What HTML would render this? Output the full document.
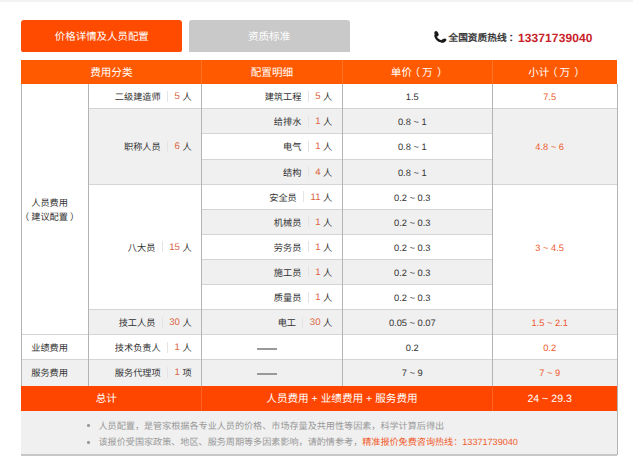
<!DOCTYPE html>
<html lang="zh-CN"><head><meta charset="utf-8"><title>价格详情</title>
<style>
html,body{margin:0;padding:0;}
body{width:633px;height:466px;position:relative;overflow:hidden;background:#fff;font-family:"Liberation Sans",sans-serif;text-rendering:geometricPrecision;text-spacing-trim:space-all;}
.t{position:absolute;display:flex;align-items:center;white-space:nowrap;box-sizing:border-box;}
.sep{display:inline-block;width:1px;height:11px;background:#e4e4e4;margin:0 6.5px 0 6.3px;}
em{font-style:normal;color:#dc6440;font-size:9.6px;font-weight:normal;position:relative;top:0.5px;}
.dot{position:absolute;width:2.5px;height:2.5px;border-radius:50%;background:#999;}
</style></head><body>
<div style="position:absolute;left:0px;top:0px;width:633px;height:1.5px;background:#f3f3f3;"></div>
<div style="position:absolute;left:21.2px;top:20.3px;width:161.3px;height:31.9px;background:#ff4b00;border-radius:3px 3px 2px 2px;"></div>
<div class="t" style="left:21.2px;top:20.3px;width:161.3px;height:31.9px;padding-right:0px;justify-content:center;color:#fff;font-size:10.45px;font-weight:500;">价格详情及人员配置</div>
<div style="position:absolute;left:188.5px;top:20.3px;width:161.2px;height:31.9px;background:#c9c9c9;border-radius:3px 3px 0 0;"></div>
<div class="t" style="left:188.5px;top:20.3px;width:161.2px;height:31.9px;padding-right:0px;justify-content:center;color:#fff;font-size:10.6px;font-weight:500;">资质标准</div>
<svg style="position:absolute;left:430px;top:28px" width="20" height="18" viewBox="0 0 20 18"><g fill="#1a1a1a"><ellipse cx="6.5" cy="5.8" rx="1.9" ry="2.8" transform="rotate(-25 6.5 5.8)"/><ellipse cx="13.7" cy="12.6" rx="2.9" ry="1.8" transform="rotate(-25 13.7 12.6)"/></g><path d="M5.4 7.5 C5.8 10.2 8.2 12.6 11.5 13.5" fill="none" stroke="#1a1a1a" stroke-width="2.3" stroke-linecap="round"/></svg>
<div class="t" style="left:448.5px;top:28px;height:17px;font-size:9.7px;font-weight:bold;color:#3a3a3a;">全国资质热线<span style="margin-left:2px">：</span></div>
<div class="t" style="left:518px;top:29px;height:17px;font-size:12px;letter-spacing:0.1px;font-weight:bold;color:#c91f2c;">13371739040</div>
<div style="position:absolute;left:21.2px;top:59.5px;width:595.8px;height:24.5px;background:#ff5a00;"></div>
<div style="position:absolute;left:201.1px;top:59.5px;width:1.0px;height:24.5px;background:rgba(255,255,255,0.16);"></div>
<div style="position:absolute;left:341.8px;top:59.5px;width:1.0px;height:24.5px;background:rgba(255,255,255,0.16);"></div>
<div style="position:absolute;left:491.8px;top:59.5px;width:1.0px;height:24.5px;background:rgba(255,255,255,0.16);"></div>
<div class="t" style="left:21.2px;top:60.5px;width:180.4px;height:24.5px;padding-right:0px;justify-content:center;color:#fff;font-size:10.6px;font-weight:500;">费用分类</div>
<div class="t" style="left:201.6px;top:60.5px;width:140.7px;height:24.5px;padding-right:0px;justify-content:center;color:#fff;font-size:10.6px;font-weight:500;">配置明细</div>
<div class="t" style="left:342.3px;top:60.5px;width:150.0px;height:24.5px;padding-right:0px;justify-content:center;color:#fff;font-size:10.6px;font-weight:500;">单价<span style="position:relative;left:-2.4px">（</span><span style="position:relative;left:-0.5px">万</span><span style="position:relative;left:3.8px">）</span></div>
<div class="t" style="left:492.3px;top:60.5px;width:124.7px;height:24.5px;padding-right:0px;justify-content:center;color:#fff;font-size:10.6px;font-weight:500;">小计<span style="position:relative;left:-2.4px">（</span><span style="position:relative;left:-0.5px">万</span><span style="position:relative;left:3.8px">）</span></div>
<div style="position:absolute;left:21.2px;top:84.0px;width:595.8px;height:302.0px;background:#fff;"></div>
<div style="position:absolute;left:201.6px;top:109px;width:415.4px;height:25px;background:#f0f0f0;"></div>
<div style="position:absolute;left:201.6px;top:160px;width:415.4px;height:25px;background:#f0f0f0;"></div>
<div style="position:absolute;left:201.6px;top:210px;width:415.4px;height:25px;background:#f0f0f0;"></div>
<div style="position:absolute;left:201.6px;top:260px;width:415.4px;height:25px;background:#f0f0f0;"></div>
<div style="position:absolute;left:201.6px;top:310px;width:415.4px;height:25px;background:#f0f0f0;"></div>
<div style="position:absolute;left:201.6px;top:360px;width:415.4px;height:26px;background:#f0f0f0;"></div>
<div style="position:absolute;left:88px;top:109px;width:113.6px;height:76px;background:#f0f0f0;"></div>
<div style="position:absolute;left:492.3px;top:109px;width:124.7px;height:76px;background:#f0f0f0;"></div>
<div style="position:absolute;left:492.3px;top:185px;width:124.7px;height:125px;background:#fff;"></div>
<div style="position:absolute;left:88px;top:310px;width:113.6px;height:25px;background:#f0f0f0;"></div>
<div style="position:absolute;left:21.2px;top:360px;width:180.4px;height:26px;background:#f0f0f0;"></div>
<div style="position:absolute;left:201.6px;top:108px;width:290.7px;height:1px;background:#d4d4d4;"></div>
<div style="position:absolute;left:201.6px;top:133px;width:290.7px;height:1px;background:#d4d4d4;"></div>
<div style="position:absolute;left:201.6px;top:159px;width:290.7px;height:1px;background:#d4d4d4;"></div>
<div style="position:absolute;left:201.6px;top:184px;width:290.7px;height:1px;background:#d4d4d4;"></div>
<div style="position:absolute;left:201.6px;top:209px;width:290.7px;height:1px;background:#d4d4d4;"></div>
<div style="position:absolute;left:201.6px;top:234px;width:290.7px;height:1px;background:#d4d4d4;"></div>
<div style="position:absolute;left:201.6px;top:259px;width:290.7px;height:1px;background:#d4d4d4;"></div>
<div style="position:absolute;left:201.6px;top:284px;width:290.7px;height:1px;background:#d4d4d4;"></div>
<div style="position:absolute;left:201.6px;top:309px;width:290.7px;height:1px;background:#d4d4d4;"></div>
<div style="position:absolute;left:201.6px;top:334px;width:290.7px;height:1px;background:#d4d4d4;"></div>
<div style="position:absolute;left:201.6px;top:359px;width:290.7px;height:1px;background:#d4d4d4;"></div>
<div style="position:absolute;left:88px;top:108px;width:113.6px;height:1px;background:#d4d4d4;"></div>
<div style="position:absolute;left:492.3px;top:108px;width:124.7px;height:1px;background:#d4d4d4;"></div>
<div style="position:absolute;left:88px;top:184px;width:113.6px;height:1px;background:#d4d4d4;"></div>
<div style="position:absolute;left:492.3px;top:184px;width:124.7px;height:1px;background:#d4d4d4;"></div>
<div style="position:absolute;left:88px;top:309px;width:113.6px;height:1px;background:#d4d4d4;"></div>
<div style="position:absolute;left:492.3px;top:309px;width:124.7px;height:1px;background:#d4d4d4;"></div>
<div style="position:absolute;left:88px;top:334px;width:113.6px;height:1px;background:#d4d4d4;"></div>
<div style="position:absolute;left:492.3px;top:334px;width:124.7px;height:1px;background:#d4d4d4;"></div>
<div style="position:absolute;left:88px;top:359px;width:113.6px;height:1px;background:#d4d4d4;"></div>
<div style="position:absolute;left:492.3px;top:359px;width:124.7px;height:1px;background:#d4d4d4;"></div>
<div style="position:absolute;left:21.2px;top:334px;width:66.8px;height:1px;background:#d4d4d4;"></div>
<div style="position:absolute;left:21.2px;top:359px;width:66.8px;height:1px;background:#d4d4d4;"></div>
<div style="position:absolute;left:87.5px;top:84.0px;width:1.0px;height:302.0px;background:#b4b4b4;"></div>
<div style="position:absolute;left:201.1px;top:84.0px;width:1.0px;height:302.0px;background:#b4b4b4;"></div>
<div style="position:absolute;left:341.8px;top:84.0px;width:1.0px;height:302.0px;background:#b4b4b4;"></div>
<div style="position:absolute;left:491.8px;top:84.0px;width:1.0px;height:302.0px;background:#b4b4b4;"></div>
<div style="position:absolute;left:20.7px;top:84.0px;width:1.0px;height:371.0px;background:#b4b4b4;"></div>
<div style="position:absolute;left:616.5px;top:84.0px;width:1.0px;height:371.0px;background:#b4b4b4;"></div>
<div style="position:absolute;left:21.2px;top:386px;width:596.3px;height:25px;background:#ff4600;"></div>
<div style="position:absolute;left:201.1px;top:386px;width:1.0px;height:25px;background:rgba(255,255,255,0.16);"></div>
<div style="position:absolute;left:491.8px;top:386px;width:1.0px;height:25px;background:rgba(255,255,255,0.16);"></div>
<div class="t" style="left:21.2px;top:386px;width:180.4px;height:25px;padding-right:10px;justify-content:center;color:#fff;font-size:10.6px;font-weight:500;">总计</div>
<div class="t" style="left:201.6px;top:386px;width:290.7px;height:25px;padding-right:10px;justify-content:center;color:#fff;font-size:10.6px;font-weight:500;">人员费用 + 业绩费用 + 服务费用</div>
<div class="t" style="left:492.3px;top:386px;width:124.7px;height:25px;padding-right:10px;justify-content:center;color:#fff;font-size:10.6px;font-weight:500;">24 ~ 29.3</div>
<div style="position:absolute;left:21.2px;top:411px;width:595.8px;height:44.0px;background:#f0f0f0;"></div>
<div style="position:absolute;left:20.7px;top:454.0px;width:596.8px;height:1.5px;background:#c8c8c8;"></div>
<div class="t" style="left:21.2px;top:84.7px;width:66.8px;height:251.0px;padding-right:10px;justify-content:center;font-size:9.2px;color:#333;font-weight:500;line-height:14px;text-align:center;flex-direction:column;"><div>人员费用</div><div style="text-spacing-trim:space-all"><span style="margin:0 2px 0 -2px">（</span>建议配置<span style="margin:0 -2px 0 2px">）</span></div></div>
<div class="t" style="left:21.2px;top:334.7px;width:66.8px;height:25.1px;padding-right:10px;justify-content:center;font-size:9.2px;color:#333;font-weight:500;">业绩费用</div>
<div class="t" style="left:21.2px;top:359.8px;width:66.8px;height:25.1px;padding-right:10px;justify-content:center;font-size:9.2px;color:#333;font-weight:500;">服务费用</div>
<div class="t" style="left:88px;top:83.7px;width:113.6px;height:25.1px;padding-right:10px;justify-content:flex-end;font-size:9.2px;color:#333;font-weight:500;">二级建造师<i class="sep"></i><em>5</em>&nbsp;人</div>
<div class="t" style="left:88px;top:108.8px;width:113.6px;height:75.3px;padding-right:10px;justify-content:flex-end;font-size:9.2px;color:#333;font-weight:500;">职称人员<i class="sep"></i><em>6</em>&nbsp;人</div>
<div class="t" style="left:88px;top:184.1px;width:113.6px;height:125.5px;padding-right:10px;justify-content:flex-end;font-size:9.2px;color:#333;font-weight:500;">八大员<i class="sep"></i><em>15</em>&nbsp;人</div>
<div class="t" style="left:88px;top:309.6px;width:113.6px;height:25.1px;padding-right:10px;justify-content:flex-end;font-size:9.2px;color:#333;font-weight:500;">技工人员<i class="sep"></i><em>30</em>&nbsp;人</div>
<div class="t" style="left:88px;top:334.7px;width:113.6px;height:25.1px;padding-right:10px;justify-content:flex-end;font-size:9.2px;color:#333;font-weight:500;">技术负责人<i class="sep"></i><em>1</em>&nbsp;人</div>
<div class="t" style="left:88px;top:359.8px;width:113.6px;height:25.1px;padding-right:10px;justify-content:flex-end;font-size:9.2px;color:#333;font-weight:500;">服务代理项<i class="sep"></i><em>1</em>&nbsp;项</div>
<div class="t" style="left:201.6px;top:83.7px;width:140.7px;height:25.1px;padding-right:10px;justify-content:flex-end;font-size:9.2px;color:#333;font-weight:500;">建筑工程<i class="sep"></i><em>5</em>&nbsp;人</div>
<div class="t" style="left:201.6px;top:108.8px;width:140.7px;height:25.1px;padding-right:10px;justify-content:flex-end;font-size:9.2px;color:#333;font-weight:500;">给排水<i class="sep"></i><em>1</em>&nbsp;人</div>
<div class="t" style="left:201.6px;top:133.9px;width:140.7px;height:25.1px;padding-right:10px;justify-content:flex-end;font-size:9.2px;color:#333;font-weight:500;">电气<i class="sep"></i><em>1</em>&nbsp;人</div>
<div class="t" style="left:201.6px;top:159.0px;width:140.7px;height:25.1px;padding-right:10px;justify-content:flex-end;font-size:9.2px;color:#333;font-weight:500;">结构<i class="sep"></i><em>4</em>&nbsp;人</div>
<div class="t" style="left:201.6px;top:184.1px;width:140.7px;height:25.1px;padding-right:10px;justify-content:flex-end;font-size:9.2px;color:#333;font-weight:500;">安全员<i class="sep"></i><em>11</em>&nbsp;人</div>
<div class="t" style="left:201.6px;top:209.2px;width:140.7px;height:25.1px;padding-right:10px;justify-content:flex-end;font-size:9.2px;color:#333;font-weight:500;">机械员<i class="sep"></i><em>1</em>&nbsp;人</div>
<div class="t" style="left:201.6px;top:234.3px;width:140.7px;height:25.1px;padding-right:10px;justify-content:flex-end;font-size:9.2px;color:#333;font-weight:500;">劳务员<i class="sep"></i><em>1</em>&nbsp;人</div>
<div class="t" style="left:201.6px;top:259.4px;width:140.7px;height:25.1px;padding-right:10px;justify-content:flex-end;font-size:9.2px;color:#333;font-weight:500;">施工员<i class="sep"></i><em>1</em>&nbsp;人</div>
<div class="t" style="left:201.6px;top:284.5px;width:140.7px;height:25.1px;padding-right:10px;justify-content:flex-end;font-size:9.2px;color:#333;font-weight:500;">质量员<i class="sep"></i><em>1</em>&nbsp;人</div>
<div class="t" style="left:201.6px;top:309.6px;width:140.7px;height:25.1px;padding-right:10px;justify-content:flex-end;font-size:9.2px;color:#333;font-weight:500;">电工<i class="sep"></i><em>30</em>&nbsp;人</div>
<div style="position:absolute;left:257.3px;top:348.3px;width:20.2px;height:1.3px;background:#999;"></div>
<div style="position:absolute;left:257.3px;top:373.3px;width:20.2px;height:1.3px;background:#999;"></div>
<div class="t" style="left:342.3px;top:84.7px;width:150.0px;height:25.1px;padding-right:10px;justify-content:center;font-size:9.3px;color:#333;">1.5</div>
<div class="t" style="left:342.3px;top:109.8px;width:150.0px;height:25.1px;padding-right:10px;justify-content:center;font-size:9.3px;color:#333;">0.8 ~ 1</div>
<div class="t" style="left:342.3px;top:134.9px;width:150.0px;height:25.1px;padding-right:10px;justify-content:center;font-size:9.3px;color:#333;">0.8 ~ 1</div>
<div class="t" style="left:342.3px;top:160.0px;width:150.0px;height:25.1px;padding-right:10px;justify-content:center;font-size:9.3px;color:#333;">0.8 ~ 1</div>
<div class="t" style="left:342.3px;top:185.1px;width:150.0px;height:25.1px;padding-right:10px;justify-content:center;font-size:9.3px;color:#333;">0.2 ~ 0.3</div>
<div class="t" style="left:342.3px;top:210.2px;width:150.0px;height:25.1px;padding-right:10px;justify-content:center;font-size:9.3px;color:#333;">0.2 ~ 0.3</div>
<div class="t" style="left:342.3px;top:235.3px;width:150.0px;height:25.1px;padding-right:10px;justify-content:center;font-size:9.3px;color:#333;">0.2 ~ 0.3</div>
<div class="t" style="left:342.3px;top:260.4px;width:150.0px;height:25.1px;padding-right:10px;justify-content:center;font-size:9.3px;color:#333;">0.2 ~ 0.3</div>
<div class="t" style="left:342.3px;top:285.5px;width:150.0px;height:25.1px;padding-right:10px;justify-content:center;font-size:9.3px;color:#333;">0.2 ~ 0.3</div>
<div class="t" style="left:342.3px;top:310.6px;width:150.0px;height:25.1px;padding-right:10px;justify-content:center;font-size:9.3px;color:#333;">0.05 ~ 0.07</div>
<div class="t" style="left:342.3px;top:335.7px;width:150.0px;height:25.1px;padding-right:10px;justify-content:center;font-size:9.3px;color:#333;">0.2</div>
<div class="t" style="left:342.3px;top:360.8px;width:150.0px;height:25.1px;padding-right:10px;justify-content:center;font-size:9.3px;color:#333;">7 ~ 9</div>
<div class="t" style="left:492.3px;top:84.7px;width:124.7px;height:25.1px;padding-right:10px;justify-content:center;font-size:9.3px;color:#ee5a2c;">7.5</div>
<div class="t" style="left:492.3px;top:109.8px;width:124.7px;height:75.3px;padding-right:10px;justify-content:center;font-size:9.3px;color:#ee5a2c;">4.8 ~ 6</div>
<div class="t" style="left:492.3px;top:185.1px;width:124.7px;height:125.5px;padding-right:10px;justify-content:center;font-size:9.3px;color:#ee5a2c;">3 ~ 4.5</div>
<div class="t" style="left:492.3px;top:310.6px;width:124.7px;height:25.1px;padding-right:10px;justify-content:center;font-size:9.3px;color:#ee5a2c;">1.5 ~ 2.1</div>
<div class="t" style="left:492.3px;top:335.7px;width:124.7px;height:25.1px;padding-right:10px;justify-content:center;font-size:9.3px;color:#ee5a2c;">0.2</div>
<div class="t" style="left:492.3px;top:360.8px;width:124.7px;height:25.1px;padding-right:10px;justify-content:center;font-size:9.3px;color:#ee5a2c;">7 ~ 9</div>
<div class="dot" style="left:87px;top:424px"></div>
<div class="dot" style="left:87px;top:441px"></div>
<div class="t" style="left:98.5px;top:416px;height:17px;font-size:9.1px;color:#999;">人员配置，是管家根据各专业人员的价格、市场存量及共用性等因素，科学计算后得出</div>
<div class="t" style="left:98.5px;top:432.5px;height:17px;font-size:9.1px;color:#999;">该报价受国家政策、地区、服务周期等多因素影响，请酌情参考，<span style="color:#f05a28">精准报价免费咨询热线：13371739040</span></div>
</body></html>
